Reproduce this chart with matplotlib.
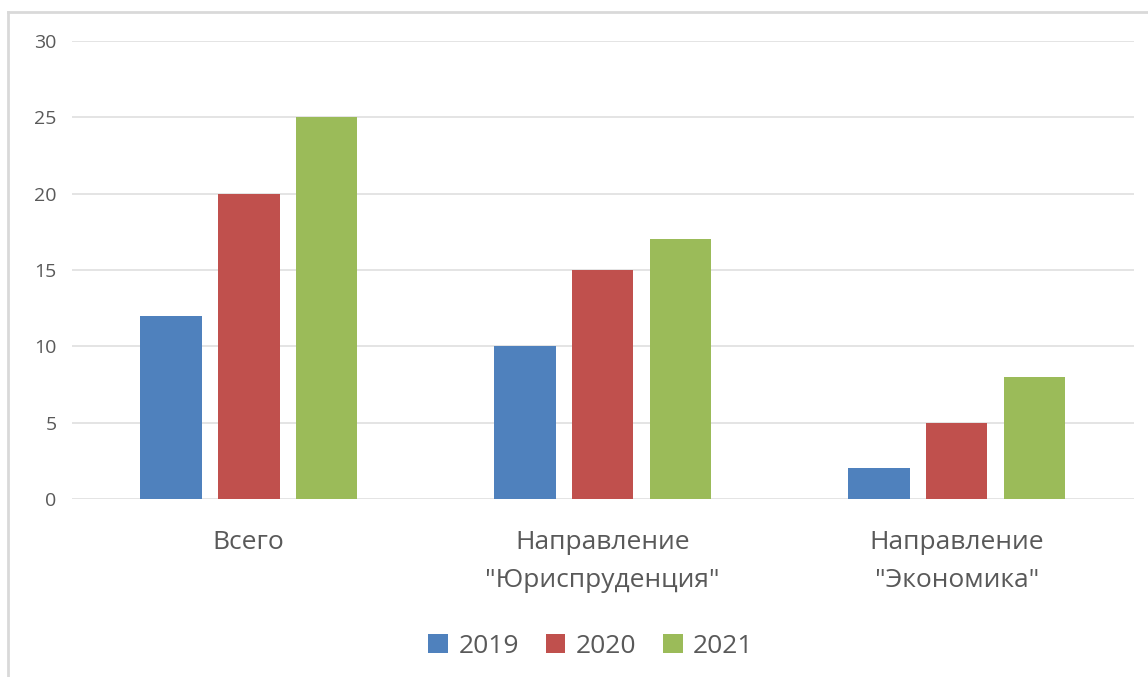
import matplotlib.pyplot as plt
from matplotlib.lines import Line2D
import numpy as np

plt.rcParams['font.family'] = ['Open Sans', 'DejaVu Sans']

categories = ['Всего', 'Направление\n"Юриспруденция"', 'Направление\n"Экономика"']
years = ['2019', '2020', '2021']
values_2019 = [12, 10, 2]
values_2020 = [20, 15, 5]
values_2021 = [25, 17, 8]
colors = ['#4F81BD', '#C0504D', '#9BBB59']

fig = plt.figure(figsize=(11.48, 6.77), dpi=100)
ax = fig.add_axes([0.0625, 0.263, 0.925, 0.6765])

x = np.arange(len(categories))
width = 0.174
step = 0.22
series = [values_2019, values_2020, values_2021]
for i, (vals, yr, c) in enumerate(zip(series, years, colors)):
    ax.bar(x + (i - 1) * step, vals, width, color=c, label=yr, zorder=3)

ax.set_xlim(-0.5, 2.5)
ax.set_ylim(0, 30)
ax.set_yticks(range(0, 31, 5))
ax.set_xticks(x)
ax.set_xticklabels(categories, fontsize=19, color='#595959', linespacing=1.7, va='top')
ax.tick_params(axis='x', length=0, pad=22)
ax.tick_params(axis='y', length=0, pad=11, labelsize=14, labelcolor='#595959')
ax.grid(axis='y', color='#DDDDDD', linewidth=1.1, zorder=0)
for s in ax.spines.values():
    s.set_visible(False)

ax.legend(loc='center', bbox_to_anchor=(0.489, -0.322), ncol=3, frameon=False,
          fontsize=19, labelcolor='#595959', handlelength=0.75, handleheight=0.75,
          handletextpad=0.4, columnspacing=1.0)

# chart border (top and left visible)
fig.add_artist(Line2D([8 / 1148, 1.0], [1 - 12 / 677, 1 - 12 / 677],
                      color='#D9D9D9', linewidth=2, transform=fig.transFigure))
fig.add_artist(Line2D([8 / 1148, 8 / 1148], [0, 1 - 12 / 677],
                      color='#D9D9D9', linewidth=2, transform=fig.transFigure))

fig.savefig('out.png', dpi=100)
